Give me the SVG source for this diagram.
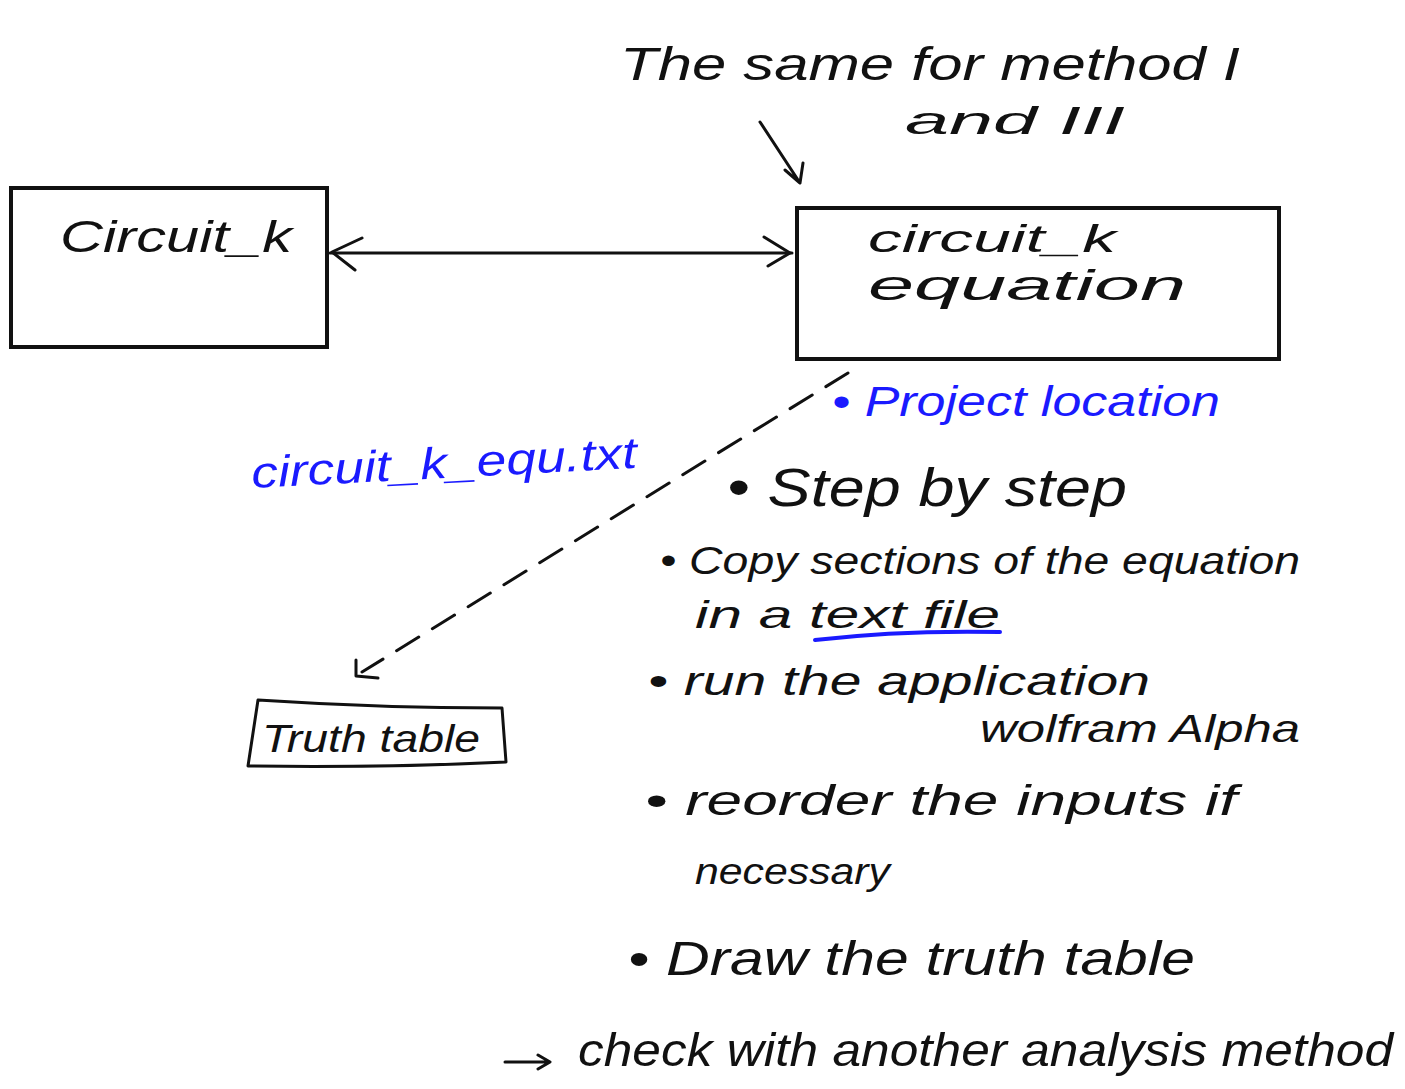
<svg xmlns="http://www.w3.org/2000/svg" width="1405" height="1089" viewBox="0 0 1405 1089">
<style>
.hw{font-family:"Liberation Sans","DejaVu Sans",sans-serif;font-style:italic;fill:#111}
.blue{fill:#1a1aff}
.box{fill:#fff;stroke:#111;stroke-width:4}
.ln{fill:none;stroke:#111;stroke-width:3;stroke-linecap:round;stroke-linejoin:round}
</style>
<rect width="1405" height="1089" fill="#fff"/>
<g id="note-top">
<text class="hw" x="620" y="80" font-size="46" textLength="620" lengthAdjust="spacingAndGlyphs">The same for method I</text>
<text class="hw" x="905" y="134" font-size="38" textLength="220" lengthAdjust="spacingAndGlyphs">and III</text>
</g>
<g id="node-circuit">
<rect class="box" x="11" y="188" width="316" height="159"/>
<text class="hw" x="60" y="252" font-size="44" textLength="232" lengthAdjust="spacingAndGlyphs">Circuit_k</text>
</g>
<g id="node-equation">
<rect class="box" x="797" y="208" width="482" height="151"/>
<text class="hw" x="868" y="252" font-size="38" textLength="248" lengthAdjust="spacingAndGlyphs">circuit_k</text>
<text class="hw" x="868" y="300" font-size="42" textLength="318" lengthAdjust="spacingAndGlyphs">equation</text>
</g>
<g id="node-truth">
<path class="ln" d="M258 700 Q380 708 502 708 L506 762 Q380 768 248 766 Z"/>
<text class="hw" x="262" y="752" font-size="38" textLength="218" lengthAdjust="spacingAndGlyphs">Truth table</text>
</g>
<g id="connectors">
<path class="ln" d="M760 122 L800 183 M785 170 L800 183 L803 163"/>
<line class="ln" x1="330" y1="253" x2="792" y2="253" stroke-width="4"/>
<path class="ln" d="M362 238 L332 252 L355 270"/>
<path class="ln" d="M764 237 L790 253 L768 266"/>
<path class="ln" d="M848 373 L362 672" stroke-dasharray="26 16"/>
<path class="ln" d="M356 660 L356 676 L378 678"/>
<path class="ln" d="M505 1062 L548 1062 M538 1055 L550 1062 L538 1069"/>
<path d="M815 640 Q900 630 1000 632" fill="none" stroke="#1a1aff" stroke-width="4" stroke-linecap="round"/>
</g>
<g id="notes">
<text class="hw blue" x="252" y="488" font-size="44" textLength="386" lengthAdjust="spacingAndGlyphs" transform="rotate(-3 252 488)">circuit_k_equ.txt</text>
<text class="hw blue" x="832" y="416" font-size="42" textLength="388" lengthAdjust="spacingAndGlyphs">• Project location</text>
<text class="hw" x="727" y="506" font-size="54" textLength="400" lengthAdjust="spacingAndGlyphs">• Step by step</text>
<text class="hw" x="660" y="574" font-size="38" textLength="640" lengthAdjust="spacingAndGlyphs">• Copy sections of the equation</text>
<text class="hw" x="695" y="628" font-size="38" textLength="305" lengthAdjust="spacingAndGlyphs">in a text file</text>
<text class="hw" x="648" y="695" font-size="40" textLength="502" lengthAdjust="spacingAndGlyphs">• run the application</text>
<text class="hw" x="980" y="742" font-size="38" textLength="320" lengthAdjust="spacingAndGlyphs">wolfram Alpha</text>
<text class="hw" x="645" y="815" font-size="42" textLength="592" lengthAdjust="spacingAndGlyphs">• reorder the inputs if</text>
<text class="hw" x="695" y="884" font-size="36" textLength="195" lengthAdjust="spacingAndGlyphs">necessary</text>
<text class="hw" x="628" y="975" font-size="48" textLength="567" lengthAdjust="spacingAndGlyphs">• Draw the truth table</text>
<text class="hw" x="578" y="1066" font-size="46" textLength="815" lengthAdjust="spacingAndGlyphs">check with another analysis method</text>
</g>
</svg>
